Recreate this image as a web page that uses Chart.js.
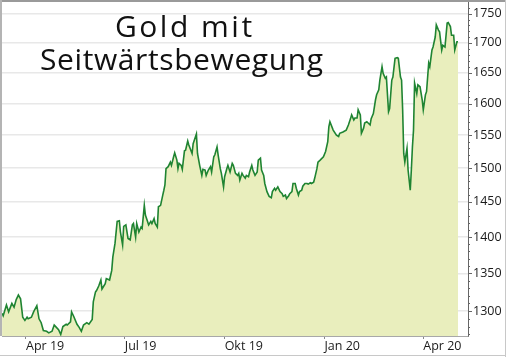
<!DOCTYPE html>
<html><head><meta charset="utf-8">
<script src="https://cdn.jsdelivr.net/npm/chart.js@4.4.1/dist/chart.umd.min.js"></script>
<style>
html,body{margin:0;padding:0;background:#fff;}
#wrap{position:relative;width:506px;height:357px;overflow:hidden;}
#c{position:absolute;left:0;top:0;}
.t{position:absolute;font-family:"Open Sans",sans-serif;font-size:30px;line-height:30px;color:#111;white-space:nowrap;}
</style></head><body>
<div id="wrap"><canvas id="c" width="506" height="357"></canvas>
<div class="t" id="t1" style="left:115px;top:11px;letter-spacing:2.5px">Gold mit</div>
<div class="t" id="t2" style="left:40px;top:44px;letter-spacing:0.6px">Seitwärtsbewegung</div>
</div>
<script>
// days since 1 Apr 2019
const days = [-22,-21,-18,-16,-13,-11,-9,-7,-5,-3,-1,1,2,5,7,10,12,14,16,19,21,24,26,28,30,32,34,37,38,41,42,44,47,49,51,53,56,58,61,62,64,65,67,69,70,73,74,77,79,80,82,84,86,87,89,90,92,94,96,98,99,101,102,104,106,107,109,110,112,113,115,116,118,119,121,122,124,126,127,128,129,131,133,134,136,137,139,140,141,143,144,146,147,149,150,153,154,157,158,160,162,163,165,166,168,170,171,173,174,176,177,179,180,182,183,185,186,188,190,191,193,195,196,197,199,200,202,203,205,206,208,209,211,213,214,216,217,219,220,222,224,226,227,229,230,232,234,236,237,239,240,242,243,245,246,248,249,251,252,254,255,257,259,260,262,263,265,266,268,269,271,274,276,278,279,280,283,286,288,289,292,295,297,299,300,302,303,305,306,308,309,311,312,314,317,318,320,322,323,325,326,328,329,331,332,334,335,337,338,340,342,343,345,346,347,348,349,351,352,354,355,356,357,358,360,361,363,365,366,368,369,371,372,374,375,377,378,380,381,383,384,386,388,389,391,392,394,395,397,398];
const prices = [1297,1294,1308,1299,1310,1305,1315,1321,1316,1292,1288,1292,1290,1292,1299,1307,1290,1285,1275,1274,1272,1274,1282,1279,1276,1270,1280,1283,1282,1286,1299,1293,1283,1279,1274,1282,1285,1283,1289,1312,1325,1327,1333,1341,1329,1336,1343,1341,1354,1372,1391,1422,1423,1407,1389,1415,1417,1398,1396,1417,1419,1400,1419,1407,1414,1412,1445,1431,1422,1417,1422,1419,1426,1419,1414,1443,1445,1460,1467,1475,1499,1502,1509,1504,1517,1523,1512,1499,1507,1504,1498,1526,1527,1541,1535,1522,1537,1552,1522,1504,1489,1498,1497,1489,1497,1502,1494,1517,1520,1532,1520,1499,1492,1472,1487,1499,1504,1494,1507,1504,1492,1489,1492,1482,1492,1489,1485,1489,1487,1494,1504,1497,1489,1494,1512,1515,1497,1489,1477,1465,1458,1456,1465,1470,1467,1472,1465,1462,1458,1460,1455,1459,1462,1465,1477,1477,1470,1460,1465,1467,1473,1477,1477,1476,1478,1477,1479,1485,1499,1509,1512,1517,1525,1540,1563,1571,1558,1550,1548,1553,1555,1558,1566,1576,1582,1574,1577,1577,1590,1582,1553,1561,1569,1571,1566,1576,1584,1606,1614,1622,1638,1660,1649,1641,1643,1587,1592,1638,1643,1674,1675,1674,1643,1638,1590,1522,1509,1530,1497,1467,1497,1532,1558,1633,1616,1630,1627,1606,1590,1614,1619,1666,1660,1688,1693,1710,1731,1722,1719,1688,1696,1693,1734,1735,1728,1713,1713,1688,1702,1702];
const tickDays = [0, 91, 183, 275, 366];
const tickLabels = ['Apr 19', 'Jul 19', 'Okt 19', 'Jan 20', 'Apr 20'];
const yTicks = [1300, 1350, 1400, 1450, 1500, 1550, 1600, 1650, 1700, 1750];
const yMinor = [1270,1280,1290,1310,1320,1330,1340,1360,1370,1380,1390,1410,1420,1430,1440,1460,1470,1480,1490,1510,1520,1530,1540,1560,1570,1580,1590,1610,1620,1630,1640,1660,1670,1680,1690,1710,1720,1730,1740,1760];

const decor = {
  id: 'decor',
  afterDraw(chart) {
    const ctx = chart.ctx, ys = chart.scales.y, a = chart.chartArea;
    ctx.save();
    ctx.strokeStyle = '#666'; ctx.lineWidth = 1;
    ctx.beginPath();
    for (const v of yMinor) { const p = Math.round(ys.getPixelForValue(v)) + 0.5; ctx.moveTo(a.right, p); ctx.lineTo(a.right + 2, p); }
    for (const v of yTicks) { const p = Math.round(ys.getPixelForValue(v)) + 0.5; ctx.moveTo(a.right, p); ctx.lineTo(a.right + 4, p); }
    ctx.stroke();
    const W = chart.width, H = chart.height;
    ctx.lineWidth = 2; ctx.strokeStyle = '#9a9a9a';
    ctx.beginPath(); ctx.moveTo(0, 1); ctx.lineTo(W, 1); ctx.stroke();
    ctx.strokeStyle = '#b4b4b4';
    ctx.beginPath(); ctx.moveTo(1, 0); ctx.lineTo(1, a.bottom); ctx.stroke();
    ctx.lineWidth = 1; ctx.strokeStyle = '#c8c8c8';
    ctx.beginPath(); ctx.moveTo(W - 0.5, 0); ctx.lineTo(W - 0.5, H); ctx.stroke();
    ctx.beginPath(); ctx.moveTo(0, H - 1.5); ctx.lineTo(W, H - 1.5); ctx.stroke();
    ctx.restore();
  }
};

new Chart(document.getElementById('c'), {
  type: 'line',
  data: {
    datasets: [{
      data: days.map((d, i) => ({ x: d, y: prices[i] })),
      borderColor: '#1f8432',
      borderWidth: 1.6,
      backgroundColor: '#e9eebd',
      fill: 'start',
      pointRadius: 0,
      tension: 0
    }]
  },
  options: {
    responsive: false,
    devicePixelRatio: 1,
    animation: false,
    layout: { padding: { left: 2, top: 2, right: 0, bottom: 0 } },
    plugins: { legend: { display: false }, tooltip: { enabled: false }, title: { display: false } },
    scales: {
      x: {
        type: 'linear', min: -22.1, max: 407.2,
        afterBuildTicks: s => { s.ticks = tickDays.map(v => ({ value: v })); },
        afterFit: s => { s.height = 21; s.paddingLeft = 0; s.paddingRight = 0; },
        ticks: {
          callback: (v, i) => tickLabels[i],
          align: 'start', maxRotation: 0, autoSkip: false, padding: 0,
          color: '#1a1a1a', font: { family: 'Open Sans', size: 12.5 }
        },
        grid: { drawOnChartArea: false, drawTicks: true, tickLength: 3, color: '#888' },
        border: { color: '#a8a8a8', width: 1 }
      },
      y: {
        type: 'logarithmic', position: 'right', min: 1268, max: 1771,
        afterBuildTicks: s => { s.ticks = yTicks.map(v => ({ value: v })); },
        afterFit: s => { s.width = 38; s.paddingTop = 0; s.paddingBottom = 0; },
        ticks: {
          callback: v => String(v), autoSkip: false, padding: 5,
          color: '#1a1a1a', font: { family: 'Open Sans', size: 12.5 }
        },
        grid: { color: '#e8e8e8', lineWidth: 1.5, drawTicks: false },
        border: { color: '#666', width: 1 }
      }
    }
  },
  plugins: [decor]
});
</script>
</body></html>
